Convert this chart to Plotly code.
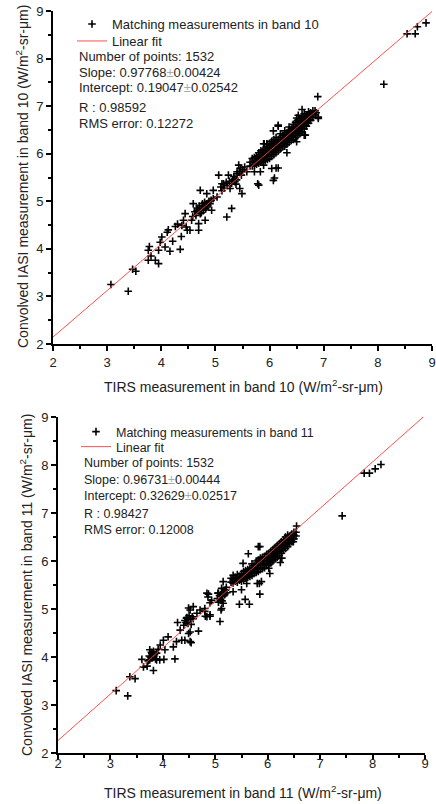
import plotly.graph_objects as go

# ---------------- data: band 10 (top panel) ----------------
b10_x = [
    # sparse lower part
    3.07, 3.39, 3.47, 3.53, 3.76, 3.81, 3.95, 3.89, 3.76, 3.78, 3.95, 3.98, 4.01, 4.07, 4.16, 4.21, 4.13, 4.11,
    4.35, 4.37, 4.26, 4.30, 4.38, 4.46, 4.48, 4.53, 4.44, 4.41, 4.56, 4.59, 4.66, 4.72, 4.69, 4.69, 4.81, 4.78,
    4.84, 4.72, 4.84, 4.96, 5.03, 4.93, 5.06, 5.24, 5.15, 5.21, 5.30, 5.27, 5.36, 5.39,
    # cluster near 4.8
    4.62, 4.66, 4.70, 4.74, 4.76, 4.80, 4.84, 4.88, 4.70, 4.78, 4.86, 4.92, 4.96, 4.64, 4.58, 4.74, 4.82, 4.90,
    # cluster near 5.3
    5.10, 5.16, 5.20, 5.26, 5.30, 5.34, 5.40, 5.44, 5.48, 5.12, 5.22, 5.32, 5.38, 5.46, 5.50, 5.54, 5.58,
    # scattered around the main band
    6.07, 6.09, 5.80, 5.78, 6.16, 6.12, 6.32, 6.07, 6.16, 5.89, 6.60, 6.53, 6.50, 6.66, 6.90, 6.86, 5.43, 5.40,
    5.83, 5.72, 5.49, 5.36, 5.12, 5.45, 6.04, 5.89, 6.50, 6.64, 6.90, 6.75, 6.16, 5.95, 5.90, 6.89,
    # high outliers
    8.11, 8.54, 8.69, 8.73, 8.89,
    # main dense band
    5.64, 5.64, 5.68, 5.68, 5.68, 5.72, 5.72, 5.72, 5.76, 5.76, 5.76, 5.80, 5.80, 5.80, 5.80,
    5.84, 5.84, 5.84, 5.84, 5.88, 5.88, 5.88, 5.88, 5.92, 5.92, 5.92, 5.92,
    5.96, 5.96, 5.96, 5.96, 5.96, 6.00, 6.00, 6.00, 6.00, 6.00, 6.04, 6.04, 6.04, 6.04, 6.04,
    6.08, 6.08, 6.08, 6.08, 6.08, 6.12, 6.12, 6.12, 6.12, 6.12, 6.16, 6.16, 6.16, 6.16,
    6.20, 6.20, 6.20, 6.20, 6.20, 6.24, 6.24, 6.24, 6.24, 6.28, 6.28, 6.28, 6.28, 6.28,
    6.32, 6.32, 6.32, 6.32, 6.36, 6.36, 6.36, 6.36, 6.36, 6.40, 6.40, 6.40, 6.40,
    6.44, 6.44, 6.44, 6.44, 6.44, 6.48, 6.48, 6.48, 6.48, 6.48, 6.52, 6.52, 6.52, 6.52, 6.52,
    6.56, 6.56, 6.56, 6.56, 6.56, 6.60, 6.60, 6.60, 6.60, 6.60, 6.64, 6.64, 6.64, 6.64, 6.64,
    6.68, 6.68, 6.68, 6.68, 6.72, 6.72, 6.72, 6.72, 6.76, 6.76, 6.76, 6.80, 6.80, 6.80, 6.84, 6.84,
]
b10_y = [
    3.25, 3.11, 3.57, 3.53, 3.76, 3.85, 3.69, 3.76, 3.97, 4.05, 3.97, 4.14, 4.25, 4.04, 3.95, 4.16, 4.40, 4.35,
    3.99, 4.26, 4.47, 4.52, 4.49, 4.46, 4.39, 4.39, 4.74, 4.60, 4.60, 4.95, 4.81, 4.74, 4.53, 4.39, 4.60, 4.81,
    4.88, 5.23, 5.16, 5.23, 5.09, 4.81, 5.55, 5.55, 5.37, 4.67, 4.85, 5.27, 5.48, 5.45,
    4.78, 4.86, 4.90, 4.85, 4.95, 4.98, 4.95, 5.00, 4.80, 4.90, 4.92, 5.02, 5.06, 4.70, 4.68, 4.76, 4.84, 4.95,
    5.30, 5.28, 5.40, 5.42, 5.38, 5.52, 5.58, 5.62, 5.55, 5.22, 5.33, 5.45, 5.36, 5.70, 5.66, 5.72, 5.62,
    5.44, 5.49, 5.34, 5.37, 5.70, 5.70, 6.02, 6.48, 6.58, 6.21, 6.93, 6.81, 6.75, 6.39, 6.74, 6.86, 5.76, 5.62,
    5.62, 5.62, 5.16, 5.41, 5.37, 5.27, 5.69, 5.76, 6.25, 6.39, 6.77, 6.71, 6.60, 6.21, 6.21, 7.20,
    7.46, 8.52, 8.52, 8.67, 8.75,
    5.74, 5.82, 5.74, 5.82, 5.90, 5.76, 5.84, 5.92, 5.78, 5.86, 5.94, 5.80, 5.88, 5.96, 6.02,
    5.82, 5.90, 5.98, 6.06, 5.84, 5.92, 6.00, 6.08, 5.86, 5.94, 6.02, 6.10,
    5.88, 5.96, 6.04, 6.12, 6.20, 5.90, 5.98, 6.06, 6.14, 6.22, 5.94, 6.02, 6.10, 6.18, 6.26,
    5.98, 6.06, 6.14, 6.22, 6.30, 6.02, 6.10, 6.18, 6.26, 6.34, 6.06, 6.14, 6.22, 6.30,
    6.10, 6.18, 6.26, 6.34, 6.42, 6.14, 6.22, 6.30, 6.38, 6.16, 6.24, 6.32, 6.40, 6.48,
    6.20, 6.28, 6.36, 6.44, 6.24, 6.32, 6.40, 6.48, 6.56, 6.28, 6.36, 6.44, 6.52,
    6.30, 6.38, 6.46, 6.54, 6.62, 6.34, 6.42, 6.50, 6.58, 6.66, 6.38, 6.46, 6.54, 6.62, 6.70,
    6.42, 6.50, 6.58, 6.66, 6.74, 6.46, 6.54, 6.62, 6.70, 6.78, 6.52, 6.60, 6.68, 6.76, 6.84,
    6.58, 6.66, 6.74, 6.82, 6.64, 6.72, 6.80, 6.88, 6.70, 6.78, 6.86, 6.76, 6.84, 6.90, 6.82, 6.90,
]

# ---------------- data: band 11 (bottom panel) ----------------
b11_x = [
    # sparse lower part
    3.11, 3.33, 3.37, 3.47, 3.63, 3.60, 3.70, 3.82, 3.75, 3.79, 3.75, 3.88, 3.94, 4.02, 3.91, 3.95, 4.01, 4.04,
    4.10, 4.20, 4.23, 4.26, 4.28, 4.33, 4.36, 4.42, 4.52, 4.54, 4.49, 4.45, 4.52, 4.49, 4.58, 4.65, 4.68, 4.52,
    4.71, 4.80, 4.84, 4.90, 4.80, 4.90, 4.93, 4.87, 5.09, 5.11, 5.15, 5.13, 5.06, 5.05, 5.12, 5.15, 5.19, 5.18, 5.21,
    # small clusters
    3.72, 3.76, 3.80, 3.84, 3.78, 3.86, 3.82, 3.74, 3.88,
    4.40, 4.44, 4.48, 4.52, 4.46, 4.56, 4.42, 4.50, 4.54, 4.58,
    5.04, 5.08, 5.12, 5.16, 5.20, 5.10, 5.14, 5.18, 5.06, 5.22,
    # scattered around the main band
    5.63, 5.53, 5.82, 5.85, 5.85, 5.84, 5.80, 5.60, 5.88, 6.04, 6.02, 5.57, 5.65, 5.46, 5.50, 5.34, 5.34,
    5.12, 4.84, 4.86, 4.90, 4.81, 6.55, 6.49, 6.46, 6.27, 6.24,
    # high outliers
    7.42, 7.84, 7.94, 8.05, 8.16,
    # main dense band
    5.30, 5.30, 5.34, 5.34, 5.34, 5.38, 5.38, 5.42, 5.42, 5.42, 5.46, 5.46, 5.50, 5.50, 5.50,
    5.54, 5.54, 5.54, 5.58, 5.58, 5.58, 5.62, 5.62, 5.62, 5.66, 5.66, 5.66,
    5.70, 5.70, 5.70, 5.70, 5.74, 5.74, 5.74, 5.78, 5.78, 5.78, 5.78, 5.82, 5.82, 5.82, 5.82,
    5.86, 5.86, 5.86, 5.86, 5.90, 5.90, 5.90, 5.90, 5.94, 5.94, 5.94, 5.94, 5.98, 5.98, 5.98, 5.98,
    6.02, 6.02, 6.02, 6.02, 6.06, 6.06, 6.06, 6.06, 6.10, 6.10, 6.10, 6.10, 6.14, 6.14, 6.14, 6.14,
    6.18, 6.18, 6.18, 6.18, 6.22, 6.22, 6.22, 6.22, 6.26, 6.26, 6.26, 6.26, 6.30, 6.30, 6.30, 6.30,
    6.34, 6.34, 6.34, 6.34, 6.38, 6.38, 6.38, 6.38, 6.42, 6.42, 6.42, 6.46, 6.46, 6.46,
    6.50, 6.50, 6.50, 6.54, 6.54,
]
b11_y = [
    3.30, 3.19, 3.59, 3.55, 3.79, 3.95, 3.81, 3.72, 3.94, 4.08, 4.15, 3.94, 3.94, 3.95, 4.16, 4.25, 4.35, 4.15,
    4.42, 4.21, 3.96, 4.32, 4.72, 4.56, 4.35, 4.35, 4.32, 4.30, 4.49, 4.81, 4.98, 5.02, 5.05, 4.91, 4.54, 4.52,
    4.98, 5.01, 4.84, 4.85, 4.95, 5.13, 5.18, 5.31, 4.74, 4.98, 5.12, 5.17, 5.33, 5.33, 5.43, 5.57, 5.39, 5.33, 5.45,
    3.92, 4.00, 3.98, 4.05, 4.10, 3.96, 4.12, 4.02, 4.08,
    4.66, 4.72, 4.70, 4.78, 4.82, 4.84, 4.76, 4.86, 4.68, 4.80,
    5.22, 5.28, 5.30, 5.36, 5.40, 5.20, 5.26, 5.30, 5.14, 5.34,
    6.15, 5.95, 6.30, 6.30, 5.31, 5.53, 5.53, 5.53, 5.57, 5.74, 5.85, 5.20, 5.10, 5.10, 5.40, 5.36, 5.59,
    5.01, 5.33, 5.25, 4.88, 4.85, 6.73, 6.40, 6.41, 6.06, 5.97,
    6.94, 7.83, 7.83, 7.92, 8.01,
    5.56, 5.64, 5.54, 5.62, 5.70, 5.58, 5.66, 5.56, 5.64, 5.72, 5.60, 5.68, 5.58, 5.66, 5.74,
    5.62, 5.70, 5.78, 5.64, 5.72, 5.80, 5.66, 5.74, 5.82, 5.68, 5.76, 5.84,
    5.70, 5.78, 5.86, 5.94, 5.74, 5.82, 5.90, 5.76, 5.84, 5.92, 6.00, 5.78, 5.86, 5.94, 6.02,
    5.82, 5.90, 5.98, 6.06, 5.84, 5.92, 6.00, 6.08, 5.86, 5.94, 6.02, 6.10, 5.90, 5.98, 6.06, 6.14,
    5.92, 6.00, 6.08, 6.16, 5.96, 6.04, 6.12, 6.20, 6.00, 6.08, 6.16, 6.24, 6.04, 6.12, 6.20, 6.28,
    6.08, 6.16, 6.24, 6.32, 6.12, 6.20, 6.28, 6.36, 6.16, 6.24, 6.32, 6.40, 6.22, 6.30, 6.38, 6.44,
    6.26, 6.34, 6.42, 6.50, 6.30, 6.38, 6.46, 6.54, 6.36, 6.44, 6.52, 6.40, 6.48, 6.56,
    6.46, 6.54, 6.60, 6.52, 6.60,
]

# fit parameters (from the chart's text)
b10_slope, b10_intercept = 0.97768, 0.19047
b11_slope, b11_intercept = 0.96731, 0.32629
axis_range = [2, 9]

PM = "<span style='color:#aaaaaa'>±</span>"
b10_stats = ["Number of points: 1532",
             "Slope: 0.97768" + PM + "0.00424",
             "Intercept: 0.19047" + PM + "0.02542",
             "R : 0.98592",
             "RMS error: 0.12272"]
b11_stats = ["Number of points: 1532",
             "Slope: 0.96731" + PM + "0.00444",
             "Intercept: 0.32629" + PM + "0.02517",
             "R : 0.98427",
             "RMS error: 0.12008"]

FONT = "Liberation Sans, Arial, sans-serif"
W, H = 436, 804


def px_x(p):
    return p / W


def px_y(p):
    return 1 - p / H


fig = go.Figure()

marker = dict(symbol="cross-thin", size=5.4, color="black", line=dict(color="black", width=1.6))
fitline = dict(color="#ff3b3b", width=0.9)

fig.add_trace(go.Scatter(x=b10_x, y=b10_y, mode="markers", marker=marker,
                         name="Matching measurements in band 10", xaxis="x", yaxis="y", legend="legend"))
fig.add_trace(go.Scatter(x=axis_range, y=[b10_slope * v + b10_intercept for v in axis_range], mode="lines",
                         line=fitline, name="Linear fit", xaxis="x", yaxis="y", legend="legend2"))
fig.add_trace(go.Scatter(x=b11_x, y=b11_y, mode="markers", marker=marker,
                         name="Matching measurements in band 11", xaxis="x2", yaxis="y2", legend="legend3"))
fig.add_trace(go.Scatter(x=axis_range, y=[b11_slope * v + b11_intercept for v in axis_range], mode="lines",
                         line=fitline, name="Linear fit", xaxis="x2", yaxis="y2", legend="legend4"))


def axis(domain, anchor, standoff=0):
    return dict(domain=domain, anchor=anchor, range=axis_range, dtick=1, showline=True, linecolor="black",
                linewidth=2, ticks="outside", ticklen=5, tickwidth=2, tickcolor="black",
                tickfont=dict(family=FONT, size=13, color="#222"), showgrid=False, zeroline=False,
                ticklabelstandoff=standoff,
                minor=dict(ticks="outside", ticklen=3, tickwidth=1.5, tickcolor="black", dtick=0.5,
                           showgrid=False))


def leg(x0, yc, size):
    return dict(x=px_x(x0), y=px_y(yc), xanchor="left", yanchor="middle", bgcolor="rgba(0,0,0,0)",
                borderwidth=0, font=dict(family=FONT, size=size, color="#222"), itemwidth=30)


fig.update_layout(
    width=W, height=H, margin=dict(l=0, r=0, t=0, b=0, autoexpand=False),
    paper_bgcolor="white", plot_bgcolor="white",
    font=dict(family=FONT, color="#222"),
    xaxis=axis([px_x(53), px_x(432)], "y"),
    yaxis=axis([px_y(344), px_y(11)], "x"),
    xaxis2=axis([px_x(58), px_x(425)], "y2", standoff=-8),
    yaxis2=axis([px_y(753), px_y(417)], "x2"),
    legend=leg(72, 24, 13),
    legend2=leg(72, 41, 13),
    legend3=leg(76, 432, 12.5),
    legend4=leg(76, 447, 12.5),
    showlegend=True,
)

ann = []
for txt, yy in zip(b10_stats, [56, 72, 88, 107, 123]):
    ann.append(dict(text=txt, x=px_x(77), y=px_y(yy), xref="paper", yref="paper", xanchor="left",
                    yanchor="middle", showarrow=False, font=dict(family=FONT, size=13, color="#222")))
for txt, yy in zip(b11_stats, [463, 480, 496, 514, 530]):
    ann.append(dict(text=txt, x=px_x(82), y=px_y(yy), xref="paper", yref="paper", xanchor="left",
                    yanchor="middle", showarrow=False, font=dict(family=FONT, size=12.5, color="#222")))

ann.append(dict(text="TIRS measurement in band 10 (W/m<sup>2</sup>-sr-μm)", x=px_x(243), y=px_y(386),
                xref="paper", yref="paper", showarrow=False, xanchor="center", yanchor="middle",
                font=dict(family=FONT, size=14, color="#222")))
ann.append(dict(text="TIRS measurement in band 11 (W/m<sup>2</sup>-sr-μm)", x=px_x(243), y=px_y(792),
                xref="paper", yref="paper", showarrow=False, xanchor="center", yanchor="middle",
                font=dict(family=FONT, size=14, color="#222")))
ann.append(dict(text="Convolved IASI measurement in band 10 (W/m<sup>2</sup>-sr-μm)", x=px_x(22), y=px_y(177),
                xref="paper", yref="paper", showarrow=False, xanchor="center", yanchor="middle", textangle=-90,
                font=dict(family=FONT, size=14, color="#222")))
ann.append(dict(text="Convolved IASI measurement in band 11 (W/m<sup>2</sup>-sr-μm)", x=px_x(26), y=px_y(585),
                xref="paper", yref="paper", showarrow=False, xanchor="center", yanchor="middle", textangle=-90,
                font=dict(family=FONT, size=14, color="#222")))
fig.update_layout(annotations=ann)

fig.write_html("out.html", config={"displayModeBar": False},
               post_script="document.body.style.margin='0px';")
